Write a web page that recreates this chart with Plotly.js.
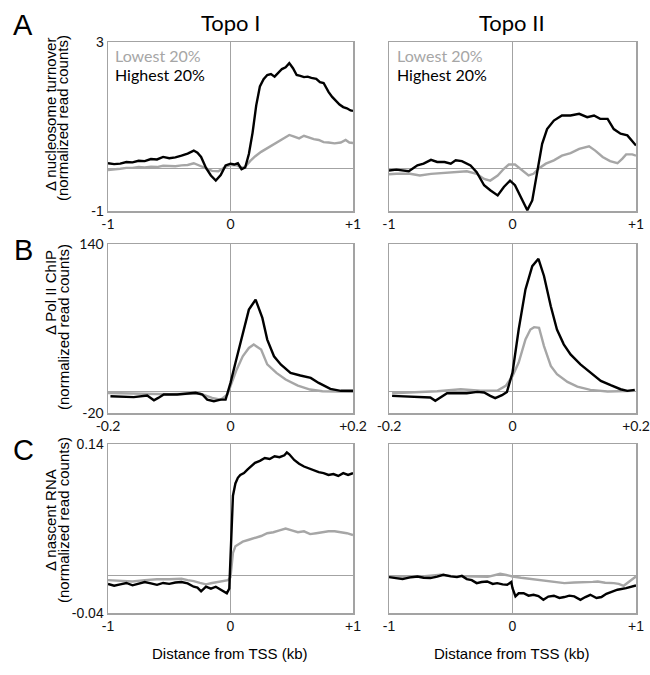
<!DOCTYPE html>
<html>
<head>
<meta charset="utf-8">
<script src="https://cdn.plot.ly/plotly-3.0.1.min.js"></script>
<style>html,body{margin:0;padding:0;background:#fff}#chart{width:650px;height:675px}</style>
</head>
<body>
<div id="chart"></div>
<script>
// ---------- Panel A: nucleosome turnover (x in kb) ----------
const aTopo1HighX = [-1.00,-0.95,-0.90,-0.85,-0.80,-0.75,-0.70,-0.65,-0.60,-0.55,-0.50,-0.45,-0.40,-0.35,-0.30,-0.27,-0.24,-0.20,-0.16,-0.12,-0.08,-0.04,0.00,0.03,0.06,0.09,0.12,0.15,0.18,0.21,0.24,0.27,0.30,0.33,0.36,0.39,0.42,0.45,0.48,0.51,0.54,0.57,0.60,0.63,0.66,0.70,0.73,0.76,0.80,0.83,0.86,0.89,0.92,0.95,0.98,1.00];
const aTopo1HighY = [0.13,0.11,0.12,0.16,0.15,0.19,0.18,0.23,0.22,0.28,0.25,0.27,0.31,0.36,0.43,0.38,0.28,0.02,-0.16,-0.28,-0.15,0.08,0.12,0.10,0.13,-0.01,0.03,0.35,0.85,1.50,1.95,2.12,2.22,2.24,2.18,2.26,2.36,2.40,2.50,2.38,2.22,2.20,2.17,2.18,2.15,2.13,2.05,2.03,1.82,1.70,1.60,1.52,1.46,1.43,1.38,1.37];
const aTopo1LowX = [-1.00,-0.95,-0.90,-0.85,-0.80,-0.75,-0.70,-0.65,-0.60,-0.55,-0.50,-0.45,-0.40,-0.35,-0.30,-0.25,-0.20,-0.15,-0.10,-0.05,0.00,0.05,0.10,0.13,0.16,0.20,0.25,0.30,0.35,0.40,0.45,0.48,0.52,0.56,0.60,0.64,0.68,0.72,0.76,0.80,0.85,0.90,0.94,0.97,1.00];
const aTopo1LowY = [-0.03,-0.02,0.00,0.02,0.02,0.04,0.03,0.05,0.04,0.07,0.07,0.06,0.08,0.09,0.13,0.07,0.02,-0.05,-0.06,0.03,0.09,0.08,0.02,0.08,0.18,0.29,0.40,0.49,0.57,0.65,0.74,0.80,0.76,0.72,0.78,0.74,0.70,0.68,0.63,0.62,0.60,0.62,0.68,0.62,0.61];
const aTopo2HighX = [-1.00,-0.94,-0.84,-0.77,-0.72,-0.66,-0.61,-0.55,-0.50,-0.46,-0.41,-0.34,-0.29,-0.23,-0.18,-0.12,-0.07,-0.02,0.02,0.08,0.12,0.16,0.20,0.24,0.28,0.335,0.40,0.47,0.54,0.605,0.66,0.71,0.77,0.82,0.875,0.93,1.00];
const aTopo2HighY = [-0.04,-0.02,-0.06,0.08,0.12,0.21,0.16,0.16,0.12,0.20,0.18,0.08,-0.08,-0.39,-0.51,-0.63,-0.43,-0.28,-0.39,-0.75,-0.98,-0.75,-0.12,0.59,0.94,1.14,1.26,1.26,1.30,1.22,1.26,1.18,1.18,0.94,0.83,0.79,0.55];
const aTopo2LowX = [-1.00,-0.94,-0.83,-0.75,-0.66,-0.56,-0.45,-0.37,-0.29,-0.23,-0.18,-0.12,-0.07,-0.03,0.02,0.08,0.13,0.17,0.21,0.27,0.335,0.40,0.47,0.54,0.62,0.67,0.73,0.79,0.85,0.89,0.92,0.97,1.00];
const aTopo2LowY = [-0.13,-0.12,-0.12,-0.16,-0.12,-0.10,-0.08,-0.06,-0.12,-0.24,-0.28,-0.16,0.00,0.10,0.10,-0.04,-0.16,-0.12,0.00,0.12,0.20,0.31,0.37,0.47,0.53,0.43,0.28,0.18,0.13,0.24,0.34,0.34,0.31];

// ---------- Panel B: Pol II ChIP (x in kb) ----------
const bTopo1HighX = [-0.196,-0.18,-0.158,-0.136,-0.125,-0.118,-0.109,-0.087,-0.071,-0.057,-0.046,-0.038,-0.027,-0.016,-0.008,0.000,0.008,0.019,0.030,0.041,0.052,0.060,0.071,0.082,0.098,0.114,0.131,0.144,0.163,0.180,0.200];
const bTopo1HighY = [-4.1,-4.7,-5.0,-3.5,-7.9,-5.7,-2.5,-2.5,-1.6,-0.9,-2.5,-7.3,-8.8,-7.3,-7.3,8.5,27.4,52.7,77.9,87.4,70.0,49.5,33.7,25.9,18.0,15.5,13.2,8.5,2.8,1.0,1.0];
const bTopo1LowX = [-0.200,-0.150,-0.100,-0.050,-0.030,-0.016,-0.005,0.000,0.010,0.020,0.030,0.038,0.050,0.060,0.075,0.090,0.110,0.130,0.150,0.200];
const bTopo1LowY = [-1.0,-1.5,-2.2,-1.6,-5.7,-7.3,-2.5,5.4,21.0,33.7,41.6,44.8,40.0,26.0,18.0,11.7,6.0,2.2,0.6,0.0];
const bTopo2HighX = [-0.195,-0.176,-0.155,-0.133,-0.125,-0.117,-0.106,-0.090,-0.074,-0.057,-0.046,-0.036,-0.028,-0.017,-0.009,0.000,0.010,0.021,0.032,0.042,0.051,0.062,0.072,0.083,0.094,0.110,0.126,0.143,0.159,0.175,0.186,0.198];
const bTopo2HighY = [-3.8,-4.4,-4.7,-5.3,-8.5,-5.3,-1.3,-1.3,-1.3,0.0,-0.6,-3.8,-6.0,-3.1,0.0,18.2,59.0,97.0,119.0,126.0,109.7,81.0,59.0,45.0,35.5,26.0,18.2,10.4,6.3,2.5,1.0,1.9];
const bTopo2LowX = [-0.195,-0.160,-0.122,-0.084,-0.052,-0.025,-0.011,0.000,0.010,0.021,0.029,0.035,0.043,0.051,0.062,0.072,0.089,0.105,0.126,0.154,0.198];
const bTopo2LowY = [-1.3,-0.6,0.6,2.5,1.0,1.0,5.7,15.0,27.7,49.7,59.0,61.3,60.7,43.4,24.5,16.7,9.4,5.0,1.9,0.3,0.9];

// ---------- Panel C: nascent RNA (x in kb) ----------
const cTopo1HighX = [-1.00,-0.95,-0.90,-0.85,-0.80,-0.75,-0.70,-0.65,-0.60,-0.55,-0.50,-0.45,-0.40,-0.35,-0.30,-0.27,-0.24,-0.20,-0.16,-0.12,-0.08,-0.05,-0.03,-0.01,0.00,0.01,0.02,0.04,0.06,0.08,0.11,0.14,0.17,0.20,0.24,0.28,0.32,0.36,0.40,0.44,0.46,0.48,0.52,0.56,0.60,0.64,0.68,0.72,0.76,0.80,0.84,0.88,0.92,0.96,1.00];
const cTopo1HighY = [-0.009,-0.011,-0.0095,-0.008,-0.0105,-0.009,-0.007,-0.0085,-0.010,-0.008,-0.009,-0.0075,-0.007,-0.0085,-0.012,-0.013,-0.017,-0.012,-0.014,-0.012,-0.015,-0.017,-0.019,-0.014,0.015,0.060,0.085,0.098,0.104,0.107,0.109,0.113,0.117,0.120,0.122,0.125,0.124,0.127,0.126,0.128,0.131,0.129,0.123,0.119,0.116,0.114,0.112,0.110,0.109,0.107,0.108,0.106,0.109,0.107,0.109];
const cTopo1LowX = [-1.00,-0.90,-0.80,-0.70,-0.60,-0.50,-0.40,-0.35,-0.30,-0.25,-0.20,-0.15,-0.10,-0.05,-0.02,0.00,0.01,0.02,0.04,0.07,0.10,0.15,0.20,0.25,0.30,0.35,0.40,0.45,0.50,0.55,0.60,0.65,0.70,0.75,0.80,0.85,0.90,0.95,1.00];
const cTopo1LowY = [-0.005,-0.006,-0.0065,-0.005,-0.004,-0.004,-0.0035,-0.005,-0.006,-0.008,-0.0095,-0.008,-0.007,-0.006,-0.005,-0.002,0.012,0.024,0.031,0.034,0.036,0.038,0.040,0.042,0.045,0.046,0.048,0.050,0.048,0.046,0.047,0.044,0.045,0.046,0.047,0.047,0.046,0.045,0.043];
const cTopo2HighX = [-1.00,-0.94,-0.89,-0.83,-0.77,-0.72,-0.665,-0.61,-0.56,-0.50,-0.45,-0.41,-0.37,-0.33,-0.29,-0.25,-0.205,-0.16,-0.124,-0.08,-0.043,-0.01,0.00,0.024,0.05,0.09,0.13,0.17,0.21,0.25,0.29,0.335,0.38,0.42,0.46,0.50,0.55,0.59,0.63,0.68,0.72,0.76,0.80,0.85,0.92,0.96,1.00];
const cTopo2HighY = [-0.0018,-0.0030,-0.0039,-0.0020,-0.0011,-0.0025,-0.0028,-0.0012,0.0007,-0.0010,-0.0018,-0.0005,-0.0039,-0.0050,-0.0082,-0.0070,-0.0064,-0.0090,-0.0082,-0.0095,-0.0099,-0.0070,-0.0135,-0.0223,-0.0190,-0.0188,-0.0215,-0.0206,-0.0220,-0.0259,-0.0225,-0.0216,-0.0240,-0.0230,-0.0215,-0.0223,-0.0259,-0.0230,-0.0206,-0.0240,-0.0230,-0.0195,-0.0175,-0.0152,-0.0135,-0.0120,-0.0106];
const cTopo2LowX = [-1.00,-0.90,-0.80,-0.70,-0.58,-0.50,-0.40,-0.30,-0.20,-0.10,-0.05,0.00,0.07,0.146,0.21,0.28,0.35,0.42,0.50,0.58,0.65,0.69,0.75,0.82,0.86,0.90,0.95,1.00];
const cTopo2LowY = [-0.0011,-0.0020,-0.0018,-0.0010,0.0007,-0.0005,-0.0004,-0.0011,-0.0015,0.0018,0.0005,-0.0011,-0.0025,-0.0039,-0.0050,-0.0064,-0.0070,-0.0082,-0.0075,-0.0074,-0.0068,-0.0064,-0.0078,-0.0082,-0.0090,-0.0110,-0.0060,-0.0011];

// ---------- Labels ----------
const columnTitles = ["Topo I", "Topo II"];
const panelLetters = ["A", "B", "C"];
const yTitleLine1 = ["Δ nucleosome turnover", "Δ Pol II ChIP", "Δ nascent RNA"];
const yTitleLine2 = "(normalized read counts)";
const legendLow = "Lowest 20%";
const legendHigh = "Highest 20%";
const xTitle = "Distance from TSS (kb)";
const kbTickVals = [-1, 0, 1];
const kbTickText = ["-1", "0", "+1"];
const polTickVals = [-0.2, 0, 0.2];
const polTickText = ["-0.2", "0", "+0.2"];
const yRanges = [[-1, 3], [-20, 140], [-0.04, 0.14]];
const yTickText = [["-1", "3"], ["-20", "140"], ["-0.04", "0.14"]];

// ---------- Layout geometry ----------
const W = 650, H = 675;
const colPx = [[108, 353], [389, 636]];
const rowPx = [[42, 211], [244, 413], [444, 613]];
const px = v => v / W;
const py = v => 1 - v / H;

const BLACK = "#000000", GRAY = "#a6a6a6", FRAME = "#a3a3a3";

const panels = [
  [[aTopo1LowX, aTopo1LowY, aTopo1HighX, aTopo1HighY], [aTopo2LowX, aTopo2LowY, aTopo2HighX, aTopo2HighY]],
  [[bTopo1LowX, bTopo1LowY, bTopo1HighX, bTopo1HighY], [bTopo2LowX, bTopo2LowY, bTopo2HighX, bTopo2HighY]],
  [[cTopo1LowX, cTopo1LowY, cTopo1HighX, cTopo1HighY], [cTopo2LowX, cTopo2LowY, cTopo2HighX, cTopo2HighY]]
];

const traces = [];
const layout = {
  width: W, height: H,
  margin: {l: 0, r: 0, t: 0, b: 0},
  paper_bgcolor: "#fff", plot_bgcolor: "#fff",
  showlegend: false,
  annotations: []
};

let idx = 0;
for (let r = 0; r < 3; r++) {
  for (let c = 0; c < 2; c++) {
    idx++;
    const sfx = idx === 1 ? "" : String(idx);
    const xa = "x" + sfx, ya = "y" + sfx;
    const d = panels[r][c];
    traces.push({x: d[0], y: d[1], xaxis: xa, yaxis: ya, type: "scatter", mode: "lines",
                 line: {color: GRAY, width: 2.4}, hoverinfo: "skip"});
    traces.push({x: d[2], y: d[3], xaxis: xa, yaxis: ya, type: "scatter", mode: "lines",
                 line: {color: BLACK, width: 2.4}, hoverinfo: "skip"});
    const isPol = r === 1;
    const tickFont = r === 2 ? {family: "Liberation Sans, Arial, sans-serif", size: 14, color: "#111"}
                             : {family: "Lato, sans-serif", size: 14, color: "#111"};
    layout["xaxis" + sfx] = {
      domain: [px(colPx[c][0]), px(colPx[c][1])],
      anchor: ya,
      range: isPol ? [-0.2, 0.2] : [-1, 1],
      tickvals: isPol ? polTickVals : kbTickVals,
      ticktext: isPol ? polTickText : kbTickText,
      ticks: "", showgrid: false, ticklabeloverflow: "allow",
      showline: true, mirror: true, linecolor: FRAME, linewidth: 1.5,
      zeroline: true, zerolinecolor: FRAME, zerolinewidth: 1,
      tickfont: tickFont, fixedrange: true
    };
    layout["yaxis" + sfx] = {
      domain: [py(rowPx[r][1]), py(rowPx[r][0])],
      anchor: xa,
      range: yRanges[r],
      tickvals: yRanges[r],
      ticktext: yTickText[r],
      showticklabels: c === 0,
      ticks: "", showgrid: false, ticklabeloverflow: "allow",
      showline: true, mirror: true, linecolor: FRAME, linewidth: 1.5,
      zeroline: true, zerolinecolor: FRAME, zerolinewidth: 1,
      tickfont: {family: r === 1 ? "Lato, sans-serif" : "Liberation Sans, Arial, sans-serif", size: 14, color: "#111"},
      fixedrange: true
    };
  }
}

const ann = layout.annotations;
const colCenters = [230, 512];
columnTitles.forEach((t, i) => ann.push({text: t, x: px(colCenters[i]), y: py(22), xref: "paper", yref: "paper",
  showarrow: false, xanchor: "center", yanchor: "middle", font: {family: "Lato, sans-serif", size: 22, color: "#000"}}));
const letterY = [25, 250, 450];
panelLetters.forEach((t, i) => ann.push({text: t, x: px(23), y: py(letterY[i]), xref: "paper", yref: "paper",
  showarrow: false, xanchor: "center", yanchor: "middle", font: {family: "Liberation Sans, Arial, sans-serif", size: 29, color: "#000"}}));
const line1Y = [115, 293, 520];
const line2Y = [118, 327, 520];
for (let r = 0; r < 3; r++) {
  ann.push({text: yTitleLine1[r], x: px(50), y: py(line1Y[r]), xref: "paper", yref: "paper", textangle: -90,
    showarrow: false, xanchor: "center", yanchor: "middle", font: {family: "Liberation Sans, Arial, sans-serif", size: 15, color: "#000"}});
  ann.push({text: yTitleLine2, x: px(63), y: py(line2Y[r]), xref: "paper", yref: "paper", textangle: -90,
    showarrow: false, xanchor: "center", yanchor: "middle", font: {family: "Liberation Sans, Arial, sans-serif", size: 15, color: "#000"}});
}
const legLeft = [113, 395];
legLeft.forEach(x0 => {
  ann.push({text: legendLow, x: px(x0), y: py(55), xref: "paper", yref: "paper", showarrow: false,
    xanchor: "left", yanchor: "middle", font: {family: "Lato, sans-serif", size: 16, color: GRAY}});
  ann.push({text: legendHigh, x: px(x0), y: py(74), xref: "paper", yref: "paper", showarrow: false,
    xanchor: "left", yanchor: "middle", font: {family: "Lato, sans-serif", size: 16, color: "#000"}});
});
colCenters.forEach(cx => ann.push({text: xTitle, x: px(cx), y: py(653), xref: "paper", yref: "paper",
  showarrow: false, xanchor: "center", yanchor: "middle", font: {family: "Liberation Sans, Arial, sans-serif", size: 15, color: "#000"}}));

Plotly.newPlot("chart", traces, layout, {staticPlot: true, displayModeBar: false});
</script>
</body>
</html>
